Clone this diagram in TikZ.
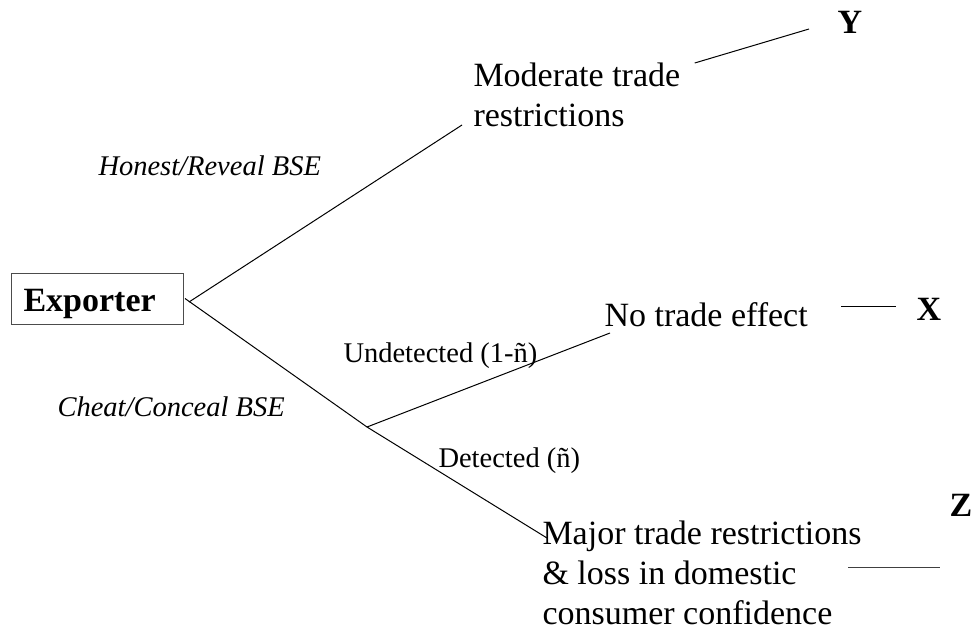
\documentclass[tikz,border=0pt]{standalone}
\usepackage{fontspec}
\setmainfont{Liberation Serif}
\begin{document}
\begin{tikzpicture}[x=1pt,y=-1pt,
  line width=1pt,
  big/.style={inner sep=0pt, font=\fontsize{34}{40}\selectfont, align=left, anchor=base west},
  bigb/.style={inner sep=0pt, font=\fontsize{34}{40}\selectfont\bfseries, anchor=base west},
  lab/.style={inner sep=0pt, font=\fontsize{28.5}{34}\selectfont, anchor=base west},
  branch/.style={draw=black, line width=1pt},
  payline/.style={draw=black!75, line width=1pt}]
\useasboundingbox (0,0) rectangle (978,632);
% nodes
\node[draw=black!70, line width=1pt, font=\fontsize{34}{40}\selectfont\bfseries,
      inner xsep=12pt, inner ysep=0pt, text width=148pt, align=left,
      text height=38pt, text depth=13pt, anchor=base west] (exp) at (11,311) {Exporter};
\node[big] (mod) at (473,126) {Moderate trade\\restrictions};
\node[big] (nte) at (604,326) {No trade effect};
\node[big] (maj) at (542,624) {Major trade restrictions\\\& loss in domestic\\consumer confidence};
\node[bigb] (Y) at (837,33) {Y};
\node[bigb] (X) at (916,320) {X};
\node[bigb] (Z) at (949,516) {Z};
\node[lab, font=\fontsize{28.5}{34}\selectfont\itshape] (hon) at (98,175) {Honest/Reveal BSE};
\node[lab, font=\fontsize{28.5}{34}\selectfont\itshape] (che) at (57,416) {Cheat/Conceal BSE};
\node[lab] (und) at (343,362) {Undetected (1-ñ)};
\node[lab] (det) at (438,467) {Detected (ñ)};
\coordinate (jn) at (367,427);
% connectors
\draw[branch] ([shift={(5,3.5)}]exp.east) -- ([shift={(-11,-1)}]mod.base west);
\draw[branch] ([shift={(1,0)}]exp.east) -- (jn);
\draw[branch] (jn) -- ([shift={(6,7)}]nte.base west);
\draw[branch] (jn) -- ([shift={(5,-86)}]maj.base west);
\draw[branch] ([shift={(14,-63)}]mod.base east) -- ([shift={(-28,-4)}]Y.base west);
\draw[branch] ([shift={(33,-20)}]nte.base east) -- ([shift={(-20,-14)}]X.base west);
\draw[payline] ([shift={(-14,-57)}]maj.base east) -- ([shift={(-9,51)}]Z.base west);
\end{tikzpicture}
\end{document}
